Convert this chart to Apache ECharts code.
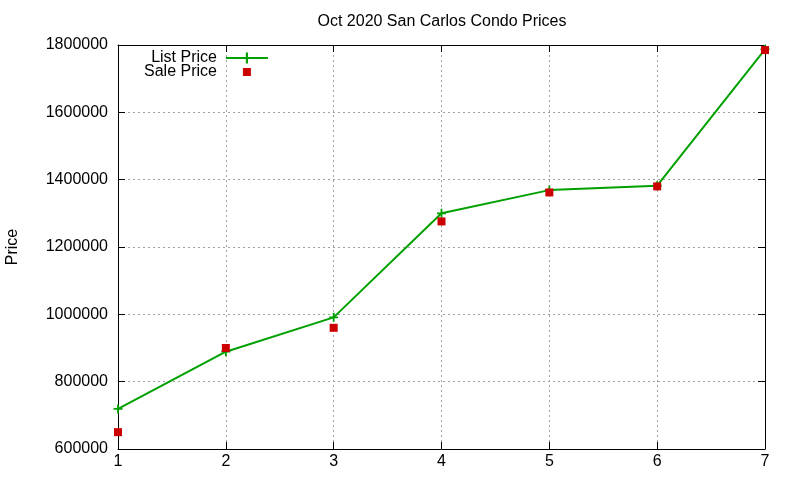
<!DOCTYPE html>
<html>
<head>
<meta charset="utf-8">
<script src="https://cdn.jsdelivr.net/npm/echarts@6/dist/echarts.min.js"></script>
<style>
  html,body{margin:0;padding:0;background:#fff;}
  #chart{width:800px;height:480px;}
</style>
</head>
<body>
<div id="chart"></div>
<script>
// DATA
const positions=[1,2,3,4,5,6,7];
const listPrice=[719000,889000,991000,1300000,1369000,1382000,1787000];
const salePrice=[650000,900000,960000,1276000,1362000,1380000,1785000];
const yTicks=[600000,800000,1000000,1200000,1400000,1600000,1800000];

const FONT='"Liberation Sans", Arial, sans-serif';
const GREEN='#00a000';
const RED='#cc0000';
const PLUS='path://M4,0h2v4h4v2h-4v4h-2v-4h-4v-2h4z';
// square centred in a 42x14 box so the legend does not stretch it
const SQUARE_ICON='path://M0,0L0,0M17,3h8v8h-8zM42,14L42,14';

const chart=echarts.init(document.getElementById('chart'),null,{renderer:'canvas'});

const axisLine={show:true,onZero:false,lineStyle:{color:'#000',width:1}};
const tickIn={show:true,inside:true,length:7,lineStyle:{color:'#000'}};
const gridLine={show:true,lineStyle:{color:'#a0a0a0',type:[2,3],width:1}};

chart.setOption({
  animation:false,
  backgroundColor:'#fff',
  textStyle:{fontFamily:FONT},
  title:{
    text:'Oct 2020 San Carlos Condo Prices',
    left:437,top:9,textAlign:'center',
    textStyle:{fontFamily:FONT,fontSize:16,fontWeight:'normal',color:'#000'}
  },
  legend:{
    left:144,top:50,orient:'vertical',align:'right',padding:0,
    itemGap:-2,itemWidth:42,itemHeight:14,
    textStyle:{fontFamily:FONT,fontSize:16,lineHeight:14,color:'#000',padding:[0,4,0,0]},
    data:[
      {name:'List Price'},
      {name:'Sale Price',icon:SQUARE_ICON}
    ]
  },
  grid:{left:118,right:35,top:45,bottom:31,containLabel:false,outerBoundsMode:'none'},
  xAxis:[{
    type:'value',min:1,max:7,interval:1,position:'bottom',
    axisLine:axisLine,axisTick:tickIn,splitLine:gridLine,
    axisLabel:{fontFamily:FONT,fontSize:16,color:'#000',margin:5}
  },{
    type:'value',min:1,max:7,interval:1,position:'top',
    axisLine:axisLine,axisTick:tickIn,splitLine:{show:false},
    axisLabel:{show:false}
  }],
  yAxis:[{
    type:'value',min:yTicks[0],max:yTicks[yTicks.length-1],interval:200000,
    name:'Price',nameLocation:'middle',nameGap:97,nameRotate:90,
    nameTextStyle:{fontFamily:FONT,fontSize:16,color:'#000'},
    axisLine:axisLine,axisTick:tickIn,splitLine:gridLine,
    axisLabel:{fontFamily:FONT,fontSize:16,color:'#000',margin:10,formatter:v=>String(v)}
  },{
    type:'value',min:yTicks[0],max:yTicks[yTicks.length-1],interval:200000,position:'right',
    axisLine:axisLine,axisTick:tickIn,splitLine:{show:false},
    axisLabel:{show:false}
  }],
  series:[{
    name:'List Price',type:'line',
    data:positions.map((x,i)=>[x,listPrice[i]]),
    symbol:PLUS,symbolSize:9,showSymbol:true,
    lineStyle:{color:GREEN,width:2},
    itemStyle:{color:GREEN},
    z:2
  },{
    name:'Sale Price',type:'scatter',
    data:positions.map((x,i)=>[x,salePrice[i]]),
    symbol:'rect',symbolSize:8,clip:false,
    itemStyle:{color:RED,opacity:1},
    z:3
  }]
});
</script>
</body>
</html>
